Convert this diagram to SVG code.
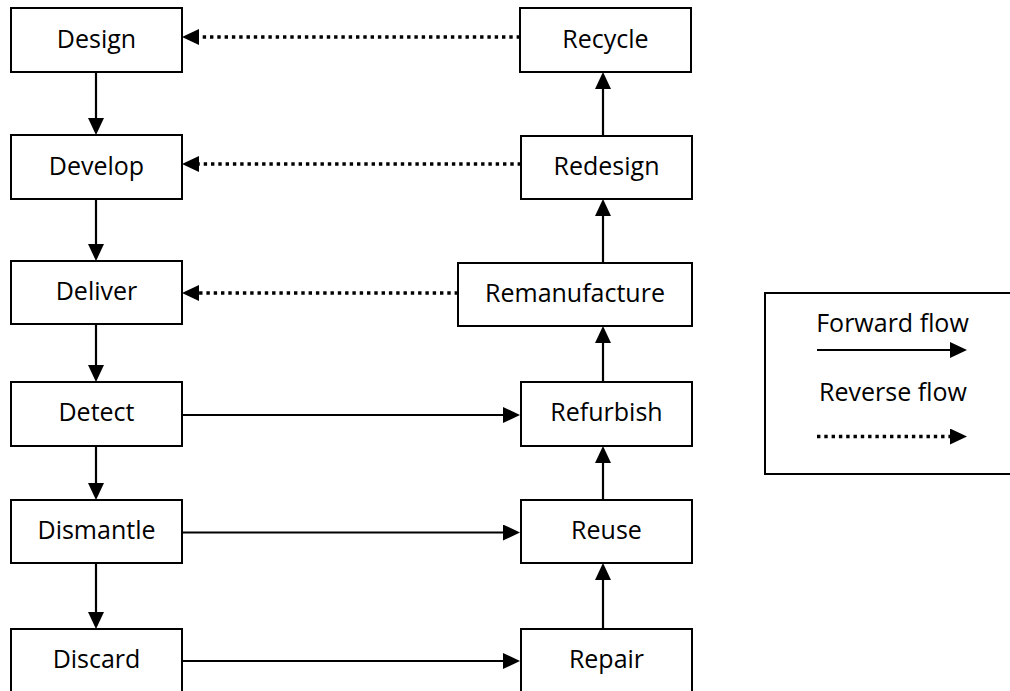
<svg xmlns="http://www.w3.org/2000/svg" width="1010" height="691" viewBox="0 0 1010 691">
  <style>
    .box { fill: #ffffff; stroke: #000000; stroke-width: 2; }
    .label { font-family: "Open Sans", "Liberation Sans", sans-serif; font-size: 25px; fill: #000000; text-anchor: middle; }
    .flow { fill: none; stroke: #000000; stroke-width: 2.2; marker-end: url(#head); }
    .rev { fill: none; stroke: #000000; stroke-width: 3.4; stroke-dasharray: 3.4 3.9; marker-end: url(#head); }
  </style>
  <defs>
    <marker id="head" markerUnits="userSpaceOnUse" markerWidth="17" markerHeight="16" refX="7" refY="8" orient="auto" viewBox="0 0 17 16">
      <path d="M0,0 L17,8 L0,16 Z" fill="#000000"/>
    </marker>
  </defs>
  <rect width="1010" height="691" fill="#ffffff"/>

  <!-- forward chain (left column) -->
  <g id="design"><rect class="box" x="11" y="8" width="171" height="64"/><text class="label" x="96.5" y="48">Design</text></g>
  <g id="develop"><rect class="box" x="11" y="135" width="171" height="64"/><text class="label" x="96.5" y="174.5">Develop</text></g>
  <g id="deliver"><rect class="box" x="11" y="261" width="171" height="63"/><text class="label" x="96.5" y="300">Deliver</text></g>
  <g id="detect"><rect class="box" x="11" y="382" width="171" height="64"/><text class="label" x="96.5" y="421">Detect</text></g>
  <g id="dismantle"><rect class="box" x="11" y="500" width="171" height="63"/><text class="label" x="96.5" y="539">Dismantle</text></g>
  <g id="discard"><rect class="box" x="11" y="629" width="171" height="72"/><text class="label" x="96.5" y="668">Discard</text></g>

  <!-- recovery chain (right column) -->
  <g id="recycle"><rect class="box" x="520" y="8" width="171" height="64"/><text class="label" x="605.5" y="48">Recycle</text></g>
  <g id="redesign"><rect class="box" x="521" y="136" width="171" height="63"/><text class="label" x="606.5" y="175">Redesign</text></g>
  <g id="remanufacture"><rect class="box" x="458" y="263" width="234" height="63"/><text class="label" x="575" y="302">Remanufacture</text></g>
  <g id="refurbish"><rect class="box" x="521" y="382" width="171" height="64"/><text class="label" x="606.5" y="421">Refurbish</text></g>
  <g id="reuse"><rect class="box" x="521" y="500" width="171" height="63"/><text class="label" x="606.5" y="539">Reuse</text></g>
  <g id="repair"><rect class="box" x="521" y="629" width="171" height="72"/><text class="label" x="606.5" y="668">Repair</text></g>

  <!-- connectors -->
  <g id="connectors">
    <!-- left column, downward -->
    <line class="flow" x1="96" y1="72" x2="96" y2="125"/>
    <line class="flow" x1="96" y1="199" x2="96" y2="251"/>
    <line class="flow" x1="96" y1="324" x2="96" y2="372"/>
    <line class="flow" x1="96" y1="446" x2="96" y2="490"/>
    <line class="flow" x1="96" y1="563" x2="96" y2="619"/>
    <!-- right column, upward -->
    <line class="flow" x1="603" y1="629" x2="603" y2="573"/>
    <line class="flow" x1="603" y1="500" x2="603" y2="456"/>
    <line class="flow" x1="603" y1="382" x2="603" y2="336"/>
    <line class="flow" x1="603" y1="263" x2="603" y2="209"/>
    <line class="flow" x1="603" y1="136" x2="603" y2="82"/>
    <!-- across, forward -->
    <line class="flow" x1="182" y1="415" x2="510" y2="415"/>
    <line class="flow" x1="182" y1="532.5" x2="510" y2="532.5"/>
    <line class="flow" x1="182" y1="661" x2="510" y2="661"/>
    <!-- across, reverse -->
    <line class="rev" x1="520" y1="37" x2="192" y2="37"/>
    <line class="rev" x1="521" y1="164" x2="192" y2="164"/>
    <line class="rev" x1="458" y1="293" x2="192" y2="293"/>
  </g>

  <!-- legend -->
  <g id="legend">
    <rect class="box" x="765" y="293" width="260" height="181"/>
    <text class="label" x="892.5" y="332">Forward flow</text>
    <line class="flow" x1="817" y1="350" x2="957" y2="350"/>
    <text class="label" x="893" y="401">Reverse flow</text>
    <line class="rev" x1="817" y1="436.5" x2="957" y2="436.5"/>
  </g>
</svg>
